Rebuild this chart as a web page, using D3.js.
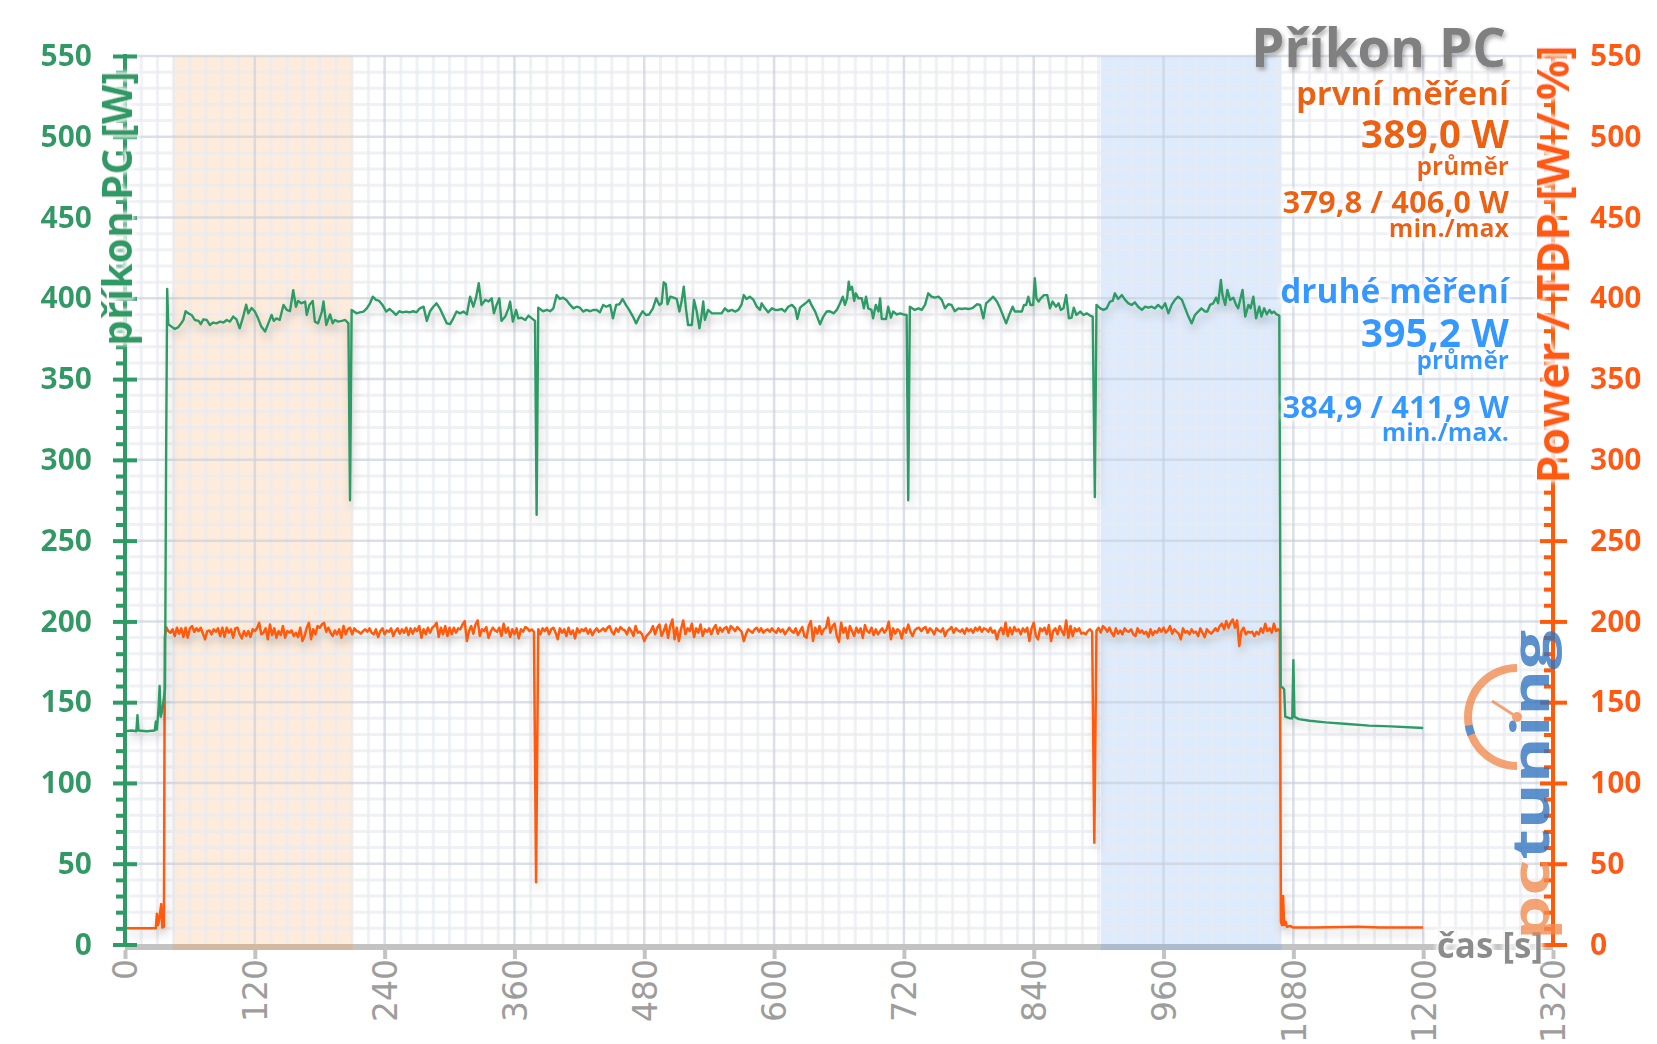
<!DOCTYPE html>
<html>
<head>
<meta charset="utf-8">
<script src="https://cdn.jsdelivr.net/npm/d3@7"></script>
<style>
  html, body { margin: 0; padding: 0; background: #fff; }
  svg { display: block; }
  text { font-family: "Open Sans", sans-serif; }
</style>
</head>
<body>
<div id="chart"></div>
<script>
// --- data ---
const xTicks = [0, 120, 240, 360, 480, 600, 720, 840, 960, 1080, 1200, 1320];
const yTicks = [0, 50, 100, 150, 200, 250, 300, 350, 400, 450, 500, 550];

// shaded intervals [start s, end s]
const firstRun = [44, 210.5];
const secondRun = [902, 1069];

// green: příkon PC [W], pairs [s, W]
const greenStart = [[0,132],[6,132.5],[10.5,132],[11.5,142],[12.5,132.5],[20,132],[27.5,132.5],[28.5,138],[29.5,133],[31,146],[32,160],[33,141],[34.5,145],[36,153],[37,158],[38,300],[39,405.8]];
const greenMain = [[40,384],[43,382.5],[46,381],[49,382],[52,384.5],[54,386.6],[56,392],[58.5,390.7],[61.5,389.7],[64.5,386.6],[68,386],[70,384],[72.5,387],[75.5,386.6],[78.5,383.5],[81.5,385],[84.5,384.5],[88,385.6],[91,385],[94,386.6],[97,385.6],[100,388.7],[103,387],[106,381.4],[109,388],[112,396],[114,390.7],[117,394],[120,391.8],[123,387.6],[126,382.5],[129.5,379.4],[132.5,384.5],[135.5,389.7],[137.5,386],[140,387.6],[143,386.6],[146.5,395.9],[149.5,392.8],[152.5,392],[155.5,405],[158,394.8],[160,398.4],[163,396.9],[166.5,398],[168,389.7],[170.5,395.9],[173.5,398.4],[175.5,385.6],[178.5,384.5],[182,391.8],[183.5,398],[186,383.5],[189.5,390],[192,384.5],[194,386.6],[197,385.6],[200.5,386],[203.5,386.6],[206.5,384.5],[208,275],[209.5,392.8],[214,390.7],[217,391.3],[220.5,391.8],[223.5,393.8],[226.5,396.9],[229,401],[232,399],[235,398.4],[238,395.9],[241.5,391.8],[244.5,393.4],[247.5,391.8],[250.5,389.7],[253.5,392],[256.5,391.3],[260,391.8],[263,391.3],[266.5,392],[269.5,391.3],[272.5,393.8],[276,394.8],[279,386],[282,392],[285,394.8],[288,396.9],[291,393.8],[294.5,388.7],[297.5,384.5],[300.5,384],[303.5,387.6],[306.5,391.8],[309.5,390.7],[313,391.8],[316,390],[319,401],[322,394.8],[324.5,400.4],[327,409.3],[329.5,395.9],[333,399],[336,398],[339,400],[341,390.7],[343.5,395.9],[346,400],[348,386],[351.5,388.7],[354.5,393.8],[356,398],[358.5,385.6],[361.5,392.8],[363.5,387.6],[366.5,388],[370,386.6],[373,389.3],[376,387.6],[379,386],[380.5,266],[382,394.2],[386.5,392],[390,392.8],[393,392],[396,393.8],[399,402],[402,399.6],
[405,400.4],[408,399],[411.5,395.9],[414.5,393.8],[417.5,394.8],[420.5,394.2],[423.5,391.8],[426.5,392.8],[430,392],[433,392.8],[436,392.8],[439,391.3],[442,395.9],[445,394.8],[448.5,395.9],[451,387.6],[454,395.9],[457,396.3],[460,399.6],[463,395.9],[466,392.8],[469.5,388.7],[472.5,384.5],[475.5,388.7],[478.5,392],[481.5,389.7],[484.5,390],[488,393.8],[491,400],[494,395.9],[496,396.9],[498,409.9],[500,408.7],[501.5,396.3],[504,401],[507,400.4],[510,399.6],[512.5,391.8],[514.5,398],[516.5,407.2],[518.5,393.8],[520.5,383.5],[524,383.5],[526,399],[528.5,391.8],[531,381.4],[533,389.7],[534.5,398],[536,386.6],[539,392.8],[542.5,390.7],[547,390.7],[551.5,390.7],[554.5,393.8],[557.5,392],[561,392.8],[564,391.8],[567,392.8],[570,396.3],[572,402],[574.5,399.6],[577.5,401],[581,399],[584,394.8],[587,392.8],[588.5,396.9],[591.5,393.8],[594.5,391.3],[598,393.8],[601,392.8],[604,392.8],[607,393.4],[610,391.8],[613,394.8],[616.5,395.9],[619.5,393.8],[621.5,387.2],[624,394.2],[627,395.9],[630,397.5],[632.5,399],[634.5,395.9],[638,391.8],[642.5,383.9],[645.5,388.7],[648.5,391.8],[651.5,392],[655,390.7],[658,392.8],[661,396.9],[663.5,401],[665.5,395.9],[667.5,400],[669,410.3],[670,405.2],[672,407.2],[674,398.4],[675.5,403.1],[678,400],[681,400],[683,393.8],[685,401],[687,393.8],[690,392.8],[691.5,387.6],[694,395.9],[696.5,391.8],[698,400],[699.5,387.2],[703.5,387.2],[705.5,394.8],[708,388],[710,391.8],[713.5,390],[716.5,390.7],[719.5,390],[722.5,389.7],[724,275],[725.5,394.8],[730,392.8],[733.5,393.8],[736.5,392.8],[739.5,395.9],[742.5,403.1],[745.5,401],[748.5,400.4],[752,401],[755,399],[758,393.8],[761,396.3],[764,395.9],[767,392],[770.5,393.8],[773.5,393.4],[776.5,393.8],[779.5,393.4],
[782.5,393.8],[784,394.2],[787.5,396.3],[790.5,395.9],[793.5,387.6],[796,396.9],[799.5,399],[802.5,401],[806,398],[809,393.8],[812,388.7],[814.5,384.5],[817.5,390],[820.5,394.8],[822.5,391.8],[826,391.8],[829,391.8],[831,395.9],[833,395.9],[835,401],[837,395.9],[839.5,395.9],[841,412.4],[842.5,400],[844.5,398],[846.5,400],[849.5,402],[852.5,402],[855,393.8],[857.5,398],[860.5,394.8],[863,396.9],[865,392.8],[867.5,393.8],[870,402],[872.5,387.6],[875,388],[877,394.2],[879.5,389.7],[883,391.8],[886,389.7],[889,390.7],[892,389.3],[894.5,388.7],[896.5,277],[898,395.9],[901.5,393.8],[904.5,392.8],[907.5,393.8],[910.5,398],[913,398.4],[915,403.1],[918,399.6],[921.5,402],[924.5,399],[927.5,396.9],[930.5,395.9],[933.5,397.5],[936.5,394.8],[940,392.8],[943,394.8],[946,394.2],[949,394.8],[952,393.8],[955,395.9],[958.5,393.8],[961.5,396.9],[964.5,390.7],[967.5,395.9],[970.5,399],[973.5,401],[977,399],[980,393.8],[983,388.7],[986,384.5],[989,389.7],[992,391.8],[995,393.8],[998.5,391.8],[1000.5,391.8],[1003,395.9],[1006,396.9],[1008.5,400.4],[1010.5,396.9],[1013,411.3],[1014.5,402],[1017,395.9],[1019,405.2],[1021.5,399],[1024.5,400.4],[1027,395.9],[1029,393.8],[1031.5,401],[1033,405.2],[1035.5,388.7],[1038.5,395.9],[1040.5,393.8],[1043,401],[1045.5,387.6],[1048.5,394.8],[1050.5,388.7],[1053,393.8],[1055.5,390],[1058,392.8],[1060,390.7],[1062,391.8],[1064.5,390],[1067,389.3]];
const greenEnd = [[1068.3,160],[1070,159],[1071.5,158],[1072.5,141],[1077,140],[1079,140],[1080,176],[1081,141],[1085,139.5],[1095,138.5],[1110,137.5],[1130,136.5],[1150,135.5],[1170,135],[1200,134]];

// orange: Power / TDP [W / %]
const orangeStart = [[0,10],[28.5,10],[29.5,19],[30.5,12],[31.5,15],[33.5,25],[34.5,10.5],[36,11],[36.8,190]];
// samples every 2 s from 38 s to 1066 s
const orangeT0 = 38;
const orangeStep = 2;
const orangeBody = [
196.5,194,193,195.1,190.9,196.1,192.4,195.7,190.3,196.1,
189.9,195.7,197.1,193.6,195.7,194,196.1,192.4,188.9,194,
194.4,192,195.1,193.6,195.7,190.9,196.1,190.3,196.1,193,
195.1,189.9,195.7,196.1,192,189.5,194,190.9,194,190.3,
195.1,194,195.7,199.2,192,193,195.7,188.9,198.1,191.5,
195.7,189.9,194,191.5,197.1,189.9,194,193,194.4,190.9,
193,190.3,196.1,187.8,190.9,196.1,199.2,188.9,195.1,192,
197.1,196.1,198.1,199.2,193.6,196.1,193,190.9,194.4,192,
195.1,189.9,197.1,192,195.1,196.1,192,195.7,194,193.6,
192.4,194,195.1,193.6,195.7,193,192,195.1,190.3,194,
195.7,192,194.4,193.6,195.7,190.9,194,195.7,192.4,195.1,
193,196.1,191.5,195.7,192.4,195.7,194,197.1,189.9,195.1,
192,196.1,193,196.1,197.1,199.2,190.3,196.1,192,197.1,
190.9,196.1,192,196.1,193,195.7,195.1,198.1,200.2,187.8,
194,197.1,192.4,198.1,200.6,190.9,195.1,194,196.5,189.9,
193.6,196.1,194.4,193.6,196.1,190.9,198.6,193,196.1,190.3,
195.1,192,195.7,189.5,195.1,193.6,196.5,195.7,194,195,193.6,
38.5,
195.1,192,195.7,194,196.1,192,195.1,196.1,193,188.9,
195.7,193,195.1,190.9,196.1,192,194.4,189.5,195.7,193,
195.1,194,195.7,192.4,195.1,191.5,194,195.7,193.6,194.4,
195.7,194,196.1,197.1,193.6,192,195.7,193.6,196.5,195.1,
194.4,192,196.1,194,190.9,197.1,193,193.6,192,187.8,
190.9,192.4,194,197.1,192,196.1,198.1,190.9,194,198.1,
189.9,197.1,201.2,188.9,196.1,187.8,195.1,200.6,192,195.7,
194,198.6,190.3,195.7,193,198.1,190.9,195.1,193.6,195.7,
192,195.7,197.7,192.4,196.1,193.6,195.7,196.5,193,197.1,
195.7,194,196.5,195.1,193.6,187.8,192,195.1,194,193,
195.1,196.1,193.6,195.7,193,194.4,195.1,193.6,195.7,194,
193,195.7,193.6,195.1,192,194,196.1,194,193,195.7,
191.5,194,196.5,190.9,189.9,197.1,200.2,187.8,196.1,192.4,
197.1,192,195.1,196.1,202.3,193,197.1,198.6,190.9,187.4,
199.2,193,196.1,189.5,197.1,194,190.9,196.1,193,195.7,
189.9,197.7,194,193,196.1,191.5,195.1,192,194,195.7,
193,195.1,199.8,188.9,195.7,192.4,195.1,194,189.5,195.7,
193,198.1,193.6,190.9,194.4,195.7,196.1,194,195.7,196.5,
193,195.7,194.4,192,195.7,194.4,193.6,195.7,190.9,194,
195.1,196.5,193,195.7,194.4,193.6,195.1,192.4,195.7,
194,195.1,193,196.1,194.4,196.5,193.6,195.7,195.1,193.6,
196.1,193,194.4,188.9,194,196.1,192,199.2,190.9,196.1,
192,196.5,194,195.1,192,195.7,193.6,196.1,187.8,195.7,
199.2,190.9,188.9,195.7,194,196.1,192,197.7,187.8,194,
195.7,192,197.1,194,191.5,200.6,189.9,197.1,190.9,195.7,
194,195.7,192.4,193,192,194,195.1,193.6,
63,
194.4,196.1,193,197.1,195.7,193.6,196.1,193,190.9,195.7,
192.4,194.4,192,195.7,194,193.6,195.1,192,190.9,195.7,
193,194.4,192.4,193.6,190.3,195.1,191.5,194,193,195.7,
193.6,196.1,193,194.4,197.1,192.4,195.1,193.6,192.4,188.9,
195.7,193,194,192,195.1,193,193.6,190.9,195.7,193,
190.3,195.1,193.6,192.4,194,195.7,194,197.1,198.6,195.1,
200.2,196.1,199.2,201.2,196.1,200.6,184.7,194,196.1,192,
193.6,193,193.6,190.9,193.6,192,195.7,193,198.6,194,
195.7,193,198.6,194,195.1
];
const orangeEnd = [[1067.5,194],[1068.5,14],[1069.5,12],[1070.5,30],[1071.5,12],[1073,14],[1074,11],[1077,11.5],[1080,10.5],[1100,10.5],[1140,11],[1160,10.5],[1200,10.5]];

// legend texts
const titleText = "Příkon PC";
const firstLabels = ["první měření", "389,0 W", "průměr", "379,8 / 406,0 W", "min./max"];
const secondLabels = ["druhé měření", "395,2 W", "průměr", "384,9 / 411,9 W", "min./max."];

// --- layout ---
const width = 1657, height = 1044;
const green = "#2e9a66", orange = "#ff5a0a", blue = "#3399ff", grey = "#808080";

const svg = d3.select("#chart").append("svg")
  .attr("width", width).attr("height", height)
  .attr("viewBox", `0 0 ${width} ${height}`);

const defs = svg.append("defs");
const halo = defs.append("filter").attr("id", "halo")
  .attr("x", "-10%").attr("y", "-20%").attr("width", "120%").attr("height", "140%");
halo.append("feMorphology").attr("in", "SourceAlpha").attr("operator", "dilate").attr("radius", 2).attr("result", "d");
halo.append("feGaussianBlur").attr("in", "d").attr("stdDeviation", 2).attr("result", "b");
halo.append("feFlood").attr("flood-color", "#fff");
halo.append("feComposite").attr("in2", "b").attr("operator", "in").attr("result", "w");
const hm = halo.append("feMerge");
hm.append("feMergeNode").attr("in", "w");
hm.append("feMergeNode").attr("in", "SourceGraphic");

const shadow = defs.append("filter").attr("id", "shadow")
  .attr("x", "-5%").attr("y", "-10%").attr("width", "110%").attr("height", "130%");
shadow.append("feDropShadow").attr("dx", 2).attr("dy", 6).attr("stdDeviation", 4)
  .attr("flood-color", "#000").attr("flood-opacity", 0.2);

const tshadow = defs.append("filter").attr("id", "tshadow")
  .attr("x", "-10%").attr("y", "-20%").attr("width", "120%").attr("height", "150%");
tshadow.append("feDropShadow").attr("dx", 2).attr("dy", 3).attr("stdDeviation", 2)
  .attr("flood-color", "#000").attr("flood-opacity", 0.3);

const x = d3.scaleLinear().domain([0, 1320]).range([125, 1553]);
const y = d3.scaleLinear().domain([0, 550]).range([944.5, 56]);

// shaded runs (under grid)
const runs = [{ r: firstRun, fill: "#fdecdc", over: "rgba(250,160,90,0.3)" },
              { r: secondRun, fill: "#ddebfc", over: "rgba(120,170,230,0.3)" }];
svg.append("g").selectAll("rect").data(runs).join("rect")
  .attr("x", d => x(d.r[0])).attr("width", d => x(d.r[1]) - x(d.r[0]))
  .attr("y", y(550)).attr("height", y(0) - y(550))
  .attr("fill", d => d.fill);

// grid
const grid = svg.append("g");
grid.selectAll(".vminor").data(d3.range(15, 1320, 15).filter(d => d % 120 !== 0)).join("line")
  .attr("x1", d => x(d)).attr("x2", d => x(d)).attr("y1", y(550)).attr("y2", y(0))
  .attr("stroke", "rgba(232,235,241,0.7)").attr("stroke-width", 3);
grid.selectAll(".hminor").data(d3.range(10, 550, 10).filter(d => d % 50 !== 0)).join("line")
  .attr("x1", x(0)).attr("x2", x(1320)).attr("y1", d => y(d)).attr("y2", d => y(d))
  .attr("stroke", "rgba(232,235,241,0.7)").attr("stroke-width", 3);
grid.selectAll(".vmajor").data(xTicks.slice(1)).join("line")
  .attr("x1", d => x(d)).attr("x2", d => x(d)).attr("y1", y(550)).attr("y2", y(0))
  .attr("stroke", "rgba(200,207,219,0.65)").attr("stroke-width", 2.5);
grid.selectAll(".hmajor").data(yTicks.slice(1)).join("line")
  .attr("x1", x(0)).attr("x2", x(1320)).attr("y1", d => y(d)).attr("y2", d => y(d))
  .attr("stroke", "rgba(200,207,219,0.65)").attr("stroke-width", 2.5);

// x axis
svg.append("line").attr("x1", x(0)).attr("x2", x(1320)).attr("y1", 947).attr("y2", 947)
  .attr("stroke", "#c3c3c3").attr("stroke-width", 6);
svg.append("g").selectAll("rect").data(runs).join("rect")
  .attr("x", d => x(d.r[0])).attr("width", d => x(d.r[1]) - x(d.r[0]))
  .attr("y", 944).attr("height", 6).attr("fill", d => d.over);

const xAxis = svg.append("g").attr("transform", "translate(0,950)")
  .call(d3.axisBottom(x).tickValues(xTicks).tickSize(9).tickSizeOuter(0).tickFormat(d3.format("d")));
xAxis.select(".domain").remove();
xAxis.selectAll(".tick line").attr("stroke", "#c3c3c3").attr("stroke-width", 4);
xAxis.selectAll(".tick text")
  .attr("transform", "rotate(-90)")
  .attr("x", -9).attr("y", 0).attr("dy", "0.36em")
  .attr("text-anchor", "end")
  .style("font-family", "'DejaVu Sans', sans-serif")
  .attr("font-size", 33).attr("fill", "#9d9d9d");

// series
const line = d3.line().x(d => x(d[0])).y(d => y(d[1]));
const orangeData = orangeStart
  .concat(orangeBody.map((v, i) => [orangeT0 + i * orangeStep, v]))
  .concat(orangeEnd);
const greenData = greenStart.concat(greenMain, greenEnd);

svg.append("path").datum(orangeData)
  .attr("fill", "none").attr("stroke", orange).attr("stroke-width", 2.5)
  .attr("stroke-linejoin", "round").attr("filter", "url(#shadow)")
  .attr("d", line);
svg.append("path").datum(greenData)
  .attr("fill", "none").attr("stroke", green).attr("stroke-width", 2.4)
  .attr("stroke-linejoin", "round").attr("filter", "url(#shadow)")
  .attr("d", line);

// left axis
const minorY = d3.range(0, 551, 10).filter(d => d % 50 !== 0);
const leftMinor = svg.append("g").attr("transform", `translate(${x(0)},0)`)
  .call(d3.axisLeft(y).tickValues(minorY).tickSize(9).tickFormat(""));
leftMinor.select(".domain").remove();
leftMinor.selectAll(".tick line").attr("stroke", green).attr("stroke-width", 4);

const leftAxis = svg.append("g").attr("transform", `translate(${x(0)},0)`)
  .call(d3.axisLeft(y).tickValues(yTicks).tickSize(12).tickSizeOuter(0).tickPadding(21));
leftAxis.select(".domain").remove();
leftAxis.selectAll(".tick line").attr("x1", 12).attr("stroke", green).attr("stroke-width", 4);
leftAxis.selectAll(".tick text").attr("fill", green).attr("font-size", 30)
  .attr("font-weight", 700).attr("filter", "url(#halo)");
svg.append("line").attr("x1", x(0)).attr("x2", x(0)).attr("y1", y(550) - 2).attr("y2", y(0) + 2)
  .attr("stroke", green).attr("stroke-width", 4);

// right axis
const rightMinor = svg.append("g").attr("transform", `translate(${x(1320)},0)`)
  .call(d3.axisLeft(y).tickValues(minorY).tickSize(9).tickFormat(""));
rightMinor.select(".domain").remove();
rightMinor.selectAll(".tick line").attr("stroke", orange).attr("stroke-width", 4);

const rightAxis = svg.append("g").attr("transform", `translate(${x(1320)},0)`)
  .call(d3.axisRight(y).tickValues(yTicks).tickSize(14).tickSizeOuter(0).tickPadding(23));
rightAxis.select(".domain").remove();
rightAxis.selectAll(".tick line").attr("x1", -13).attr("stroke", orange).attr("stroke-width", 4);
rightAxis.selectAll(".tick text").attr("fill", orange).attr("font-size", 30)
  .attr("font-weight", 700).attr("filter", "url(#halo)");
svg.append("line").attr("x1", x(1320)).attr("x2", x(1320)).attr("y1", y(550) - 2).attr("y2", y(0) + 2)
  .attr("stroke", orange).attr("stroke-width", 4);

// axis titles
svg.append("text").attr("transform", `translate(132,${(74 + 343) / 2}) rotate(-90)`)
  .attr("text-anchor", "middle").attr("font-size", 41).attr("font-weight", 700)
  .attr("fill", green).attr("filter", "url(#halo)").text("příkon PC [W]");
svg.append("text").attr("transform", `translate(1569,${(48 + 481) / 2}) rotate(-90)`)
  .attr("text-anchor", "middle").attr("font-size", 45).attr("font-weight", 700)
  .attr("fill", orange).attr("filter", "url(#halo)").text("Power / TDP [W / %]");
svg.append("text").attr("x", 1543).attr("y", 958)
  .attr("text-anchor", "end").attr("font-size", 35).attr("font-weight", 700)
  .attr("fill", "#8c8c8c").attr("filter", "url(#halo)").text("čas [s]");

// logo
const logo = svg.append("g").attr("opacity", 0.78);
const arc = d3.arc().innerRadius(45).outerRadius(53);
logo.append("path").attr("transform", "translate(1517,717)")
  .attr("d", arc({ startAngle: -Math.PI, endAngle: 0 })).attr("fill", "#f28a4e");
logo.append("path").attr("transform", "translate(1517,717)")
  .attr("d", arc({ startAngle: -0.95 * Math.PI / 2 - 0.45, endAngle: -0.95 * Math.PI / 2 - 0.25 }))
  .attr("fill", "#2f73c0");
logo.append("line").attr("x1", 1517).attr("y1", 717).attr("x2", 1492).attr("y2", 701)
  .attr("stroke", "#f28a4e").attr("stroke-width", 3);
logo.append("circle").attr("cx", 1517).attr("cy", 717).attr("r", 5).attr("fill", "#f28a4e");
const logoText = logo.append("text").attr("transform", "translate(1549,940) rotate(-90)")
  .attr("font-family", "'DejaVu Sans', sans-serif").attr("font-size", 52).attr("font-weight", 700)
  .attr("textLength", 310).attr("lengthAdjust", "spacingAndGlyphs");
logoText.append("tspan").attr("fill", "#f28a4e").text("pc");
logoText.append("tspan").attr("fill", "#2f73c0").text("tuning");

// title and legend
const legendX = 1509;
svg.append("text").attr("x", 1506).attr("y", 67).attr("text-anchor", "end")
  .attr("font-size", 53).attr("font-weight", 700).attr("fill", grey)
  .attr("filter", "url(#tshadow)").text(titleText);

const legendRows = [
  { size: 33, y: 105 },
  { size: 39, y: 148 },
  { size: 24.5, y: 175 },
  { size: 31, y: 213 },
  { size: 25, y: 237 }
];
const secondRows = [303, 347, 369, 418, 441];
const legend = svg.append("g").attr("filter", "url(#halo)");
legend.selectAll(".first").data(firstLabels).join("text")
  .attr("x", legendX).attr("y", (d, i) => legendRows[i].y)
  .attr("text-anchor", "end").attr("font-size", (d, i) => legendRows[i].size)
  .attr("font-weight", 700).attr("fill", "#ec620c").text(d => d);
legend.selectAll(".second").data(secondLabels).join("text")
  .attr("x", legendX).attr("y", (d, i) => secondRows[i])
  .attr("text-anchor", "end").attr("font-size", (d, i) => legendRows[i].size + (i === 0 ? 0.5 : 0))
  .attr("font-weight", 700).attr("fill", blue).text(d => d);
</script>
</body>
</html>
